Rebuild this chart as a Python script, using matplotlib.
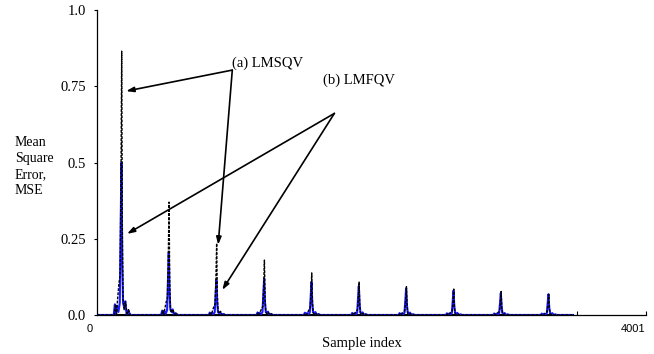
import numpy as np
import matplotlib.pyplot as plt

# --- Data ---
peak_idx = [180, 525, 872, 1220, 1565, 1910, 2255, 2600, 2945, 3292]
lmsqv_peak = [0.865, 0.37, 0.235, 0.18, 0.138, 0.108, 0.093, 0.085, 0.077, 0.068]
lmfqv_peak = [0.50, 0.205, 0.115, 0.12, 0.108, 0.095, 0.088, 0.080, 0.072, 0.068]

# shape of one spike: offset in samples, fraction of peak height
lmsqv_off = [-70, -55, -45, -38, -30, -20, -12, -6, 0, 5, 10, 18, 28, 40, 50, 62]
lmsqv_frac = [0.0, 0.0, 0.04, 0.0, 0.06, 0.12, 0.15, 0.46, 1.0, 0.30, 0.06, 0.02, 0.05, 0.0, 0.02, 0.0]
lmfqv_off = [-70, -58, -50, -42, -34, -24, -14, -8, -2, 4, 10, 18, 26, 36, 48, 62]
lmfqv_frac = [0.0, 0.0, 0.07, 0.0, 0.06, 0.02, 0.08, 0.55, 1.0, 0.35, 0.08, 0.05, 0.09, 0.0, 0.03, 0.0]

last_sample = 3460
n_samples = 4001


def build(peaks, off, frac):
    xs, ys = [0], [0.0]
    for c, h in zip(peak_idx, peaks):
        xs += [c + o for o in off]
        ys += [h * f for f in frac]
    xs.append(last_sample)
    ys.append(0.0)
    return np.array(xs), np.array(ys)


x_a, y_a = build(lmsqv_peak, lmsqv_off, lmsqv_frac)
x_b, y_b = build(lmfqv_peak, lmfqv_off, lmfqv_frac)

# --- Plotting ---
plt.rcParams['font.family'] = ['Liberation Serif', 'DejaVu Serif']
fig = plt.figure(figsize=(6.54, 3.54), dpi=100)
ax = fig.add_axes([97/654, 1 - 315/354, 549/654, 305/354])

ax.plot([0, last_sample], [0, 0], color='black', lw=2.2)
ax.plot(x_b, y_b, color='#1a1aff', lw=1.5)
ax.plot(x_a, y_a, color='black', lw=1.0, linestyle=(0, (2, 1)))

ax.set_xlim(0, n_samples)
ax.set_ylim(0, 1.0)
ax.set_yticks([0.0, 0.25, 0.5, 0.75, 1.0])
ax.set_yticklabels(['0.0', '0.25', '0.5', '0.75', '1.0'], fontsize=10.5)
ax.set_xticks([3500, n_samples])
ax.set_xticklabels([])
ax.tick_params(axis='y', direction='out', length=2, width=0.8, pad=6)
ax.tick_params(axis='x', direction='in', length=3, width=0.8)
for s in ['top', 'right']:
    ax.spines[s].set_visible(False)
for s in ['left', 'bottom']:
    ax.spines[s].set_linewidth(0.9)

# end labels of the sample axis
fig.text(90/654, 1 - 329/354, '0', fontsize=8, family='Liberation Sans',
         ha='center', va='center')
fig.text(645/654, 1 - 329/354, '4001', fontsize=8, family='Liberation Sans',
         ha='right', va='center')

fig.text(362/654, 1 - 344/354, 'Sample index', fontsize=10.5,
         ha='center', va='center')
fig.text(15/654, 1 - 167/354, 'Mean\nSquare\nError,\nMSE', fontsize=10,
         ha='left', va='center', linespacing=1.3)

# --- Annotations ---
arrow = dict(arrowstyle='-|>,head_length=0.45,head_width=0.15', color='black',
             lw=1.2, shrinkA=0, shrinkB=0)
a_vertex = (986, 0.803)
b_vertex = (1730, 0.661)
ax.annotate('', xy=(212, 0.734), xytext=a_vertex, arrowprops=arrow)
ax.annotate('', xy=(883, 0.23), xytext=a_vertex, arrowprops=arrow)
ax.annotate('', xy=(219, 0.266), xytext=b_vertex, arrowprops=arrow)
ax.annotate('', xy=(913, 0.082), xytext=b_vertex, arrowprops=arrow)
ax.text(986, 0.825, '(a) LMSQV', fontsize=10.5, ha='left', va='center')
ax.text(1650, 0.77, '(b) LMFQV', fontsize=10.5, ha='left', va='center')

fig.savefig('out.png', dpi=100)
